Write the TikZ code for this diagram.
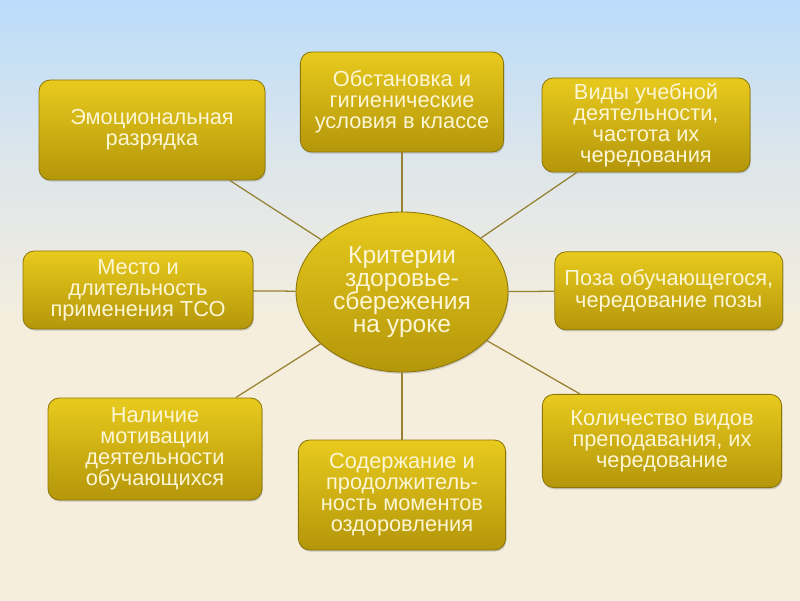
\documentclass[tikz,border=0pt]{standalone}
\usepackage{fontspec}
\setmainfont{Liberation Sans}
\usepackage{tikz}
\usetikzlibrary{shapes.geometric,shadows}

\definecolor{skyblue}{RGB}{187,220,250}
\definecolor{skymid}{RGB}{222,230,234}
\definecolor{sandbg}{RGB}{246,238,220}
\definecolor{goldtop}{RGB}{232,202,30}
\definecolor{goldbot}{RGB}{180,150,10}
\definecolor{goldedge}{RGB}{140,118,10}
\definecolor{paletext}{RGB}{252,246,212}
\definecolor{spokecol}{RGB}{150,130,50}

% the path covers 25bp..75bp of the shading
\pgfdeclareverticalshading{slidebg}{100bp}{color(0bp)=(sandbg); color(47bp)=(sandbg); color(61bp)=(skymid); color(75bp)=(skyblue); color(100bp)=(skyblue)}

\begin{document}
\begin{tikzpicture}[
    topic/.style={rectangle, rounded corners=8pt, draw=goldedge, line width=0.6pt,
        top color=goldtop, bottom color=goldbot, text=paletext, align=center,
        inner sep=2pt, font=\fontsize{15.5}{15}\selectfont,
        drop shadow={opacity=0.35, shadow xshift=0.6pt, shadow yshift=-1.2pt}},
    hub/.style={ellipse, draw=goldedge, line width=0.6pt,
        top color=goldtop, bottom color=goldbot, text=paletext, align=center,
        inner sep=0pt, minimum width=5.3cm, minimum height=4cm,
        font=\fontsize{17.5}{16.5}\selectfont,
        drop shadow={opacity=0.35, shadow xshift=0.6pt, shadow yshift=-1.2pt}},
    spoke/.style={draw=spokecol, line width=0.9pt}]

  % background of the slide
  \shade[shading=slidebg] (0,0) rectangle (20,15);
  \useasboundingbox (0,0) rectangle (20,15);

  \node[hub] (crit) at (10.05,7.7) {Критерии\\здоровье-\\сбережения\\на уроке};

  % top row
  \node[topic, minimum width=5.65cm, minimum height=2.5cm] (emo) at (3.8,11.75) {Эмоциональная\\разрядка};
  \node[topic, minimum width=5.08cm, minimum height=2.5cm] (obst) at (10.05,12.45) {Обстановка и\\гигиенические\\условия в классе};
  \node[topic, minimum width=5.2cm, minimum height=2.35cm] (vidy) at (16.15,11.875) {Виды учебной\\деятельности,\\частота их\\чередования};

  % middle row
  \node[topic, minimum width=5.75cm, minimum height=1.95cm] (mesto) at (3.45,7.75) {Место и\\длительность\\применения ТСО};
  \node[topic, minimum width=5.7cm, minimum height=1.95cm] (poza) at (16.72,7.73) {Поза обучающегося,\\чередование позы};

  % bottom row
  \node[topic, minimum width=5.35cm, minimum height=2.55cm] (motiv) at (3.875,3.775) {Наличие\\мотивации\\деятельности\\обучающихся};
  \node[topic, minimum width=5.18cm, minimum height=2.75cm] (sod) at (10.05,2.625) {Содержание и\\продолжитель-\\ность моментов\\оздоровления};
  \node[topic, minimum width=5.98cm, minimum height=2.33cm] (kol) at (16.55,3.975) {Количество видов\\преподавания, их\\чередование};

  \draw[spoke] (crit) -- (emo);
  \draw[spoke] (crit) -- (obst);
  \draw[spoke] (crit) -- (vidy);
  \draw[spoke] (crit) -- (mesto);
  \draw[spoke] (crit) -- (poza);
  \draw[spoke] (crit) -- (motiv);
  \draw[spoke] (crit) -- (sod);
  \draw[spoke] (crit) -- (kol);
\end{tikzpicture}
\end{document}
